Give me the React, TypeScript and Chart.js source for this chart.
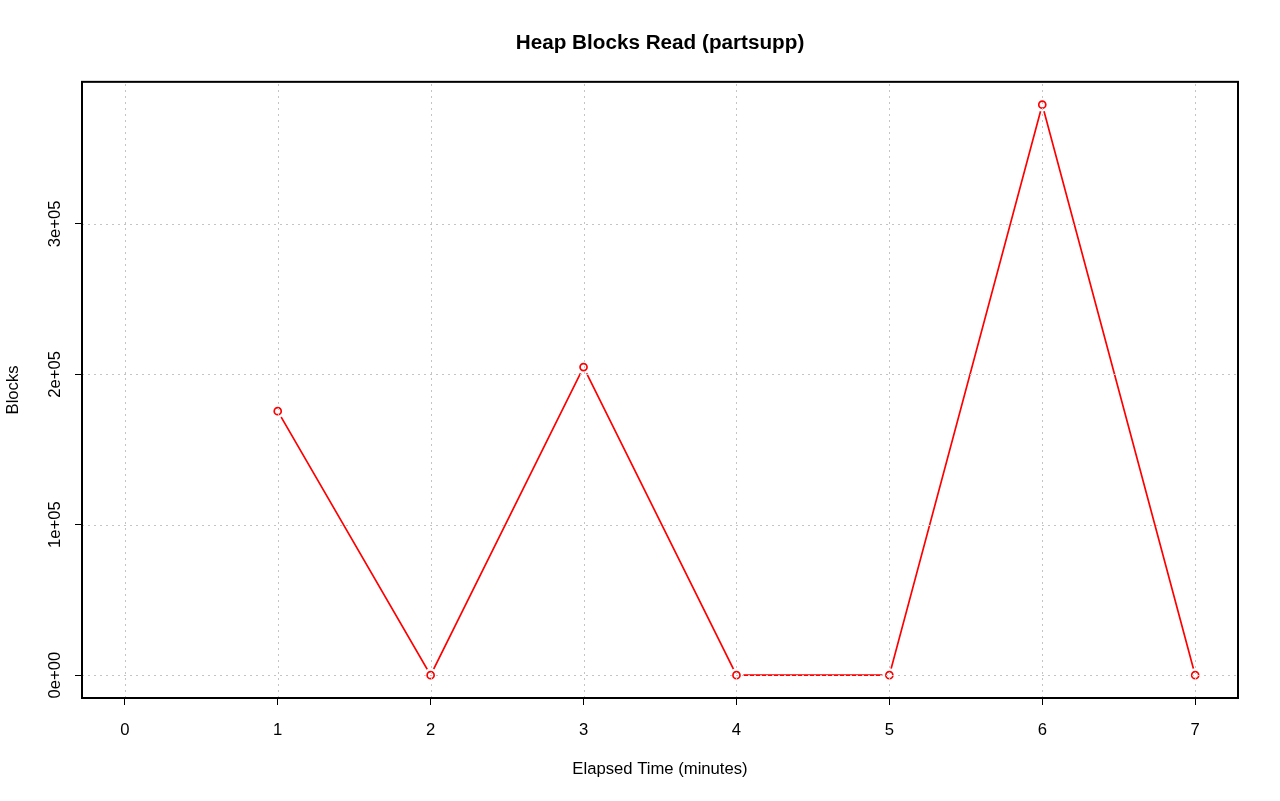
import React, { useEffect, useRef } from "react";
import { Chart, registerables } from "chart.js";

Chart.register(...registerables);

const minutes = [0, 1, 2, 3, 4, 5, 6, 7];
const blocks: (number | null)[] = [null, 175500, 0, 204800, 0, 0, 379200, 0];
const xTicks = [0, 1, 2, 3, 4, 5, 6, 7];
const yTicks = [0, 100000, 200000, 300000];
const yTickLabels = ["0e+00", "1e+05", "2e+05", "3e+05"];

const FONT = "'Liberation Sans', Arial, Helvetica, sans-serif";
const GRID_COLOR = "#c4c4c4";

export default function App() {
  const ref = useRef<HTMLCanvasElement | null>(null);

  useEffect(() => {
    if (!ref.current) return;
    const pts = minutes.map((m, i) => ({ x: m, y: blocks[i] }));
    const boxPlugin = {
      id: "box",
      afterLayout(chart: any) {
        const tb = chart.titleBlock;
        if (tb) {
          tb.left = chart.chartArea.left;
          tb.right = chart.chartArea.right;
          tb.width = tb.right - tb.left;
        }
      },
      afterDatasetsDraw(chart: any) {
        const { ctx, chartArea, scales } = chart;
        ctx.save();
        ctx.strokeStyle = GRID_COLOR;
        ctx.lineWidth = 1;
        ctx.setLineDash([2, 4]);
        for (const v of xTicks) {
          const px = Math.round(scales.x.getPixelForValue(v)) + 0.5;
          ctx.beginPath();
          ctx.moveTo(px, chartArea.bottom);
          ctx.lineTo(px, chartArea.top);
          ctx.stroke();
        }
        for (const v of yTicks) {
          const py = Math.round(scales.y.getPixelForValue(v)) + 0.5;
          ctx.beginPath();
          ctx.moveTo(chartArea.left, py);
          ctx.lineTo(chartArea.right, py);
          ctx.stroke();
        }
        ctx.restore();
      },
      afterDraw(chart: any) {
        const { ctx, chartArea } = chart;
        ctx.save();
        ctx.strokeStyle = "#000";
        ctx.lineWidth = 2;
        ctx.strokeRect(chartArea.left, chartArea.top, chartArea.right - chartArea.left, chartArea.bottom - chartArea.top);
        ctx.restore();
      },
    };
    const bg = {
      id: "bg",
      beforeDraw(chart: any) {
        const { ctx } = chart;
        ctx.save();
        ctx.fillStyle = "#fff";
        ctx.fillRect(0, 0, chart.width, chart.height);
        ctx.restore();
      },
    };
    const gridOpts = {
      drawOnChartArea: false,
      color: GRID_COLOR,
      lineWidth: 1,
      tickLength: 7,
      tickColor: "#000",
      tickWidth: 1,
      tickBorderDash: [],
    };
    const chart = new Chart(ref.current, {
      type: "line",
      data: {
        datasets: [
          {
            label: "line",
            data: pts as any,
            borderColor: "#ff0000",
            borderWidth: 1.7,
            pointRadius: 0,
            fill: false,
            spanGaps: false,
            order: 3,
          },
          {
            label: "mask",
            data: pts as any,
            showLine: false,
            pointRadius: 7,
            pointBackgroundColor: "#ffffff",
            pointBorderWidth: 0,
            pointBorderColor: "#ffffff",
            order: 2,
          },
          {
            label: "points",
            data: pts as any,
            showLine: false,
            pointRadius: 3.5,
            pointBackgroundColor: "#ffffff",
            pointBorderColor: "#ff0000",
            pointBorderWidth: 1.7,
            order: 1,
          },
        ],
      },
      options: {
        animation: false,
        responsive: false,
        events: [],
        layout: { padding: { top: 0, left: 0, right: 42, bottom: 0 } },
        plugins: {
          legend: { display: false },
          tooltip: { enabled: false },
          title: {
            display: true,
            text: "Heap Blocks Read (partsupp)",
            color: "#000",
            font: { family: FONT, size: 20.7, weight: "bold", lineHeight: 1.2 },
            padding: { top: 31, bottom: 26 },
          },
        },
        scales: {
          x: {
            type: "linear",
            min: -0.28,
            max: 7.28,
            afterBuildTicks: (s: any) => {
              s.ticks = xTicks.map((v) => ({ value: v }));
            },
            afterFit: (s: any) => {
              s.height = 103;
            },
            border: { display: false },
            grid: gridOpts,
            ticks: {
              color: "#000",
              font: { family: FONT, size: 16.67 },
              padding: 15,
              maxRotation: 0,
              minRotation: 0,
              callback: (v: any) => String(v),
            },
            title: {
              display: true,
              text: "Elapsed Time (minutes)",
              color: "#000",
              font: { family: FONT, size: 16.67, lineHeight: 1.2 },
              padding: { top: 0, bottom: 22 },
            },
          },
          y: {
            type: "linear",
            min: -15168,
            max: 394368,
            afterBuildTicks: (s: any) => {
              s.ticks = yTicks.map((v) => ({ value: v }));
            },
            afterFit: (s: any) => {
              s.width = 82;
            },
            border: { display: false },
            grid: gridOpts,
            ticks: {
              color: "#000",
              font: { family: FONT, size: 16.67 },
              padding: -4,
              crossAlign: "center",
              minRotation: 90,
              maxRotation: 90,
              callback: (v: any) => {
                const i = yTicks.indexOf(Number(v));
                return i >= 0 ? yTickLabels[i] : "";
              },
            },
            title: {
              display: true,
              text: "Blocks",
              color: "#000",
              font: { family: FONT, size: 16.67, lineHeight: 1.2 },
              padding: { top: 3, bottom: 0 },
            },
          },
        },
      },
      plugins: [bg, boxPlugin],
    } as any);
    return () => chart.destroy();
  }, []);

  return (
    <div style={{ position: "fixed", left: 0, top: 0, width: 1280, height: 801, background: "#fff" }}>
      <canvas ref={ref} width={1280} height={801} style={{ width: 1280, height: 801, display: "block" }} />
    </div>
  );
}
